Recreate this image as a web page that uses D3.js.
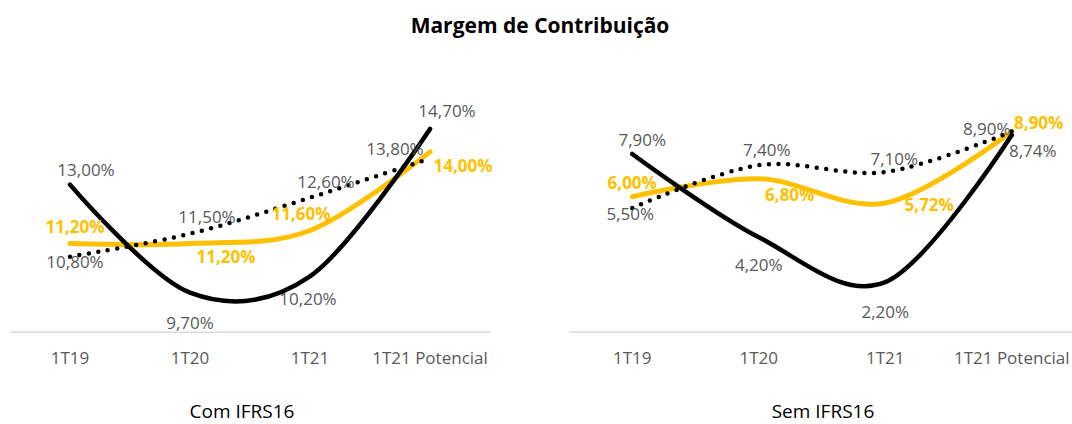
<!DOCTYPE html>
<html>
<head>
<meta charset="utf-8">
<script src="https://cdn.jsdelivr.net/npm/d3@7"></script>
<style>
  body { margin: 0; background: #fff; }
  text { font-family: "Open Sans", sans-serif; }
</style>
</head>
<body>
<script>
// categories and values (percent)
var categories = ["1T19", "1T20", "1T21", "1T21 Potencial"];

var comSolid  = [13.00, 9.70, 10.20, 14.70];
var comYellow = [11.20, 11.20, 11.60, 14.00];
var comDotted = [10.80, 11.50, 12.60, 13.80];

var semSolid  = [7.90, 4.20, 2.20, 8.74];
var semYellow = [6.00, 6.80, 5.72, 8.90];
var semDotted = [5.50, 7.40, 7.10, 8.90];

var panelTitles = ["Com IFRS16", "Sem IFRS16"];

// label offsets from the point: [dx, dy to baseline]
var comOffsets = {
    solid:  [[16, -9], [0, 36], [-2, 29], [17, -12]],
    yellow: [[5, -11], [36, 19], [-9, -10], [33, 20]],
    dotted: [[5, 11], [17, -11], [16, -10], [-35, -3]]
};
var semOffsets = {
    solid:  [[10, -8], [0, 34], [0, 36], [21, 22]],
    yellow: [[0, -8], [31, 22], [44, 8], [27, -2]],
    dotted: [[-2, 12], [8, -9], [9, -7], [-25, 4]]
};

var W = 1072, H = 424;
var yellow = "#FFC000", gray = "#595959";

var svg = d3.select("body").append("svg")
    .attr("width", W)
    .attr("height", H);

svg.append("text")
    .attr("x", 540)
    .attr("y", 33)
    .attr("text-anchor", "middle")
    .style("font-size", "21px")
    .style("font-weight", "bold")
    .style("fill", "#000")
    .text("Margem de Contribuição");

var fmt = function(v) { return d3.format(".2f")(v).replace(".", ",") + "%"; };

var panels = [
    { range: [10, 490], yDomain: [8.5, 15.4], yRange: [332, 106], axisY: 331.7,
      solid: comSolid, yellowS: comYellow, dotted: comDotted, off: comOffsets, title: panelTitles[0], titleX: 242 },
    { range: [569, 1075], yDomain: [0, 10], yRange: [331.7, 106.7], axisY: 331.7,
      solid: semSolid, yellowS: semYellow, dotted: semDotted, off: semOffsets, title: panelTitles[1], titleX: 823 }
];

panels.forEach(function(p) {
    var x = d3.scaleBand().domain(categories).range(p.range);
    var y = d3.scaleLinear().domain(p.yDomain).range(p.yRange);
    var cx = function(i) { return x(categories[i]) + x.bandwidth() / 2; };

    // category axis
    var ax = svg.append("g")
        .attr("transform", "translate(0," + p.axisY + ")")
        .call(d3.axisBottom(x).tickSize(0).tickPadding(20));
    ax.select(".domain").attr("stroke", "#d9d9d9").attr("stroke-width", 1.5);
    ax.selectAll("text")
        .style("font-family", "Open Sans, sans-serif")
        .style("font-size", "17px")
        .style("fill", gray);

    var line = d3.line()
        .x(function(d, i) { return cx(i); })
        .y(function(d) { return y(d); })
        .curve(d3.curveCardinal.tension(0));

    var series = [
        { vals: p.yellowS, color: yellow, width: 5, dash: null, off: p.off.yellow, bold: true, lc: yellow },
        { vals: p.dotted, color: "#000", width: 4.5, dash: "0 9.6", off: p.off.dotted, bold: false, lc: gray },
        { vals: p.solid, color: "#000", width: 4.5, dash: null, off: p.off.solid, bold: false, lc: gray }
    ];

    series.forEach(function(s) {
        svg.append("path")
            .datum(s.vals)
            .attr("fill", "none")
            .attr("stroke", s.color)
            .attr("stroke-width", s.width)
            .attr("stroke-linecap", "round")
            .attr("stroke-dasharray", s.dash)
            .attr("d", line);
    });

    series.forEach(function(s) {
        svg.selectAll(null)
            .data(s.vals)
            .enter()
            .append("text")
            .attr("x", function(d, i) { return cx(i) + s.off[i][0]; })
            .attr("y", function(d, i) { return y(d) + s.off[i][1]; })
            .attr("text-anchor", "middle")
            .style("font-size", "17px")
            .style("font-weight", s.bold ? "bold" : "normal")
            .style("fill", s.lc)
            .text(fmt);
    });

    svg.append("text")
        .attr("x", p.titleX)
        .attr("y", 418)
        .attr("text-anchor", "middle")
        .style("font-size", "19px")
        .style("fill", "#000")
        .text(p.title);
});
</script>
</body>
</html>
